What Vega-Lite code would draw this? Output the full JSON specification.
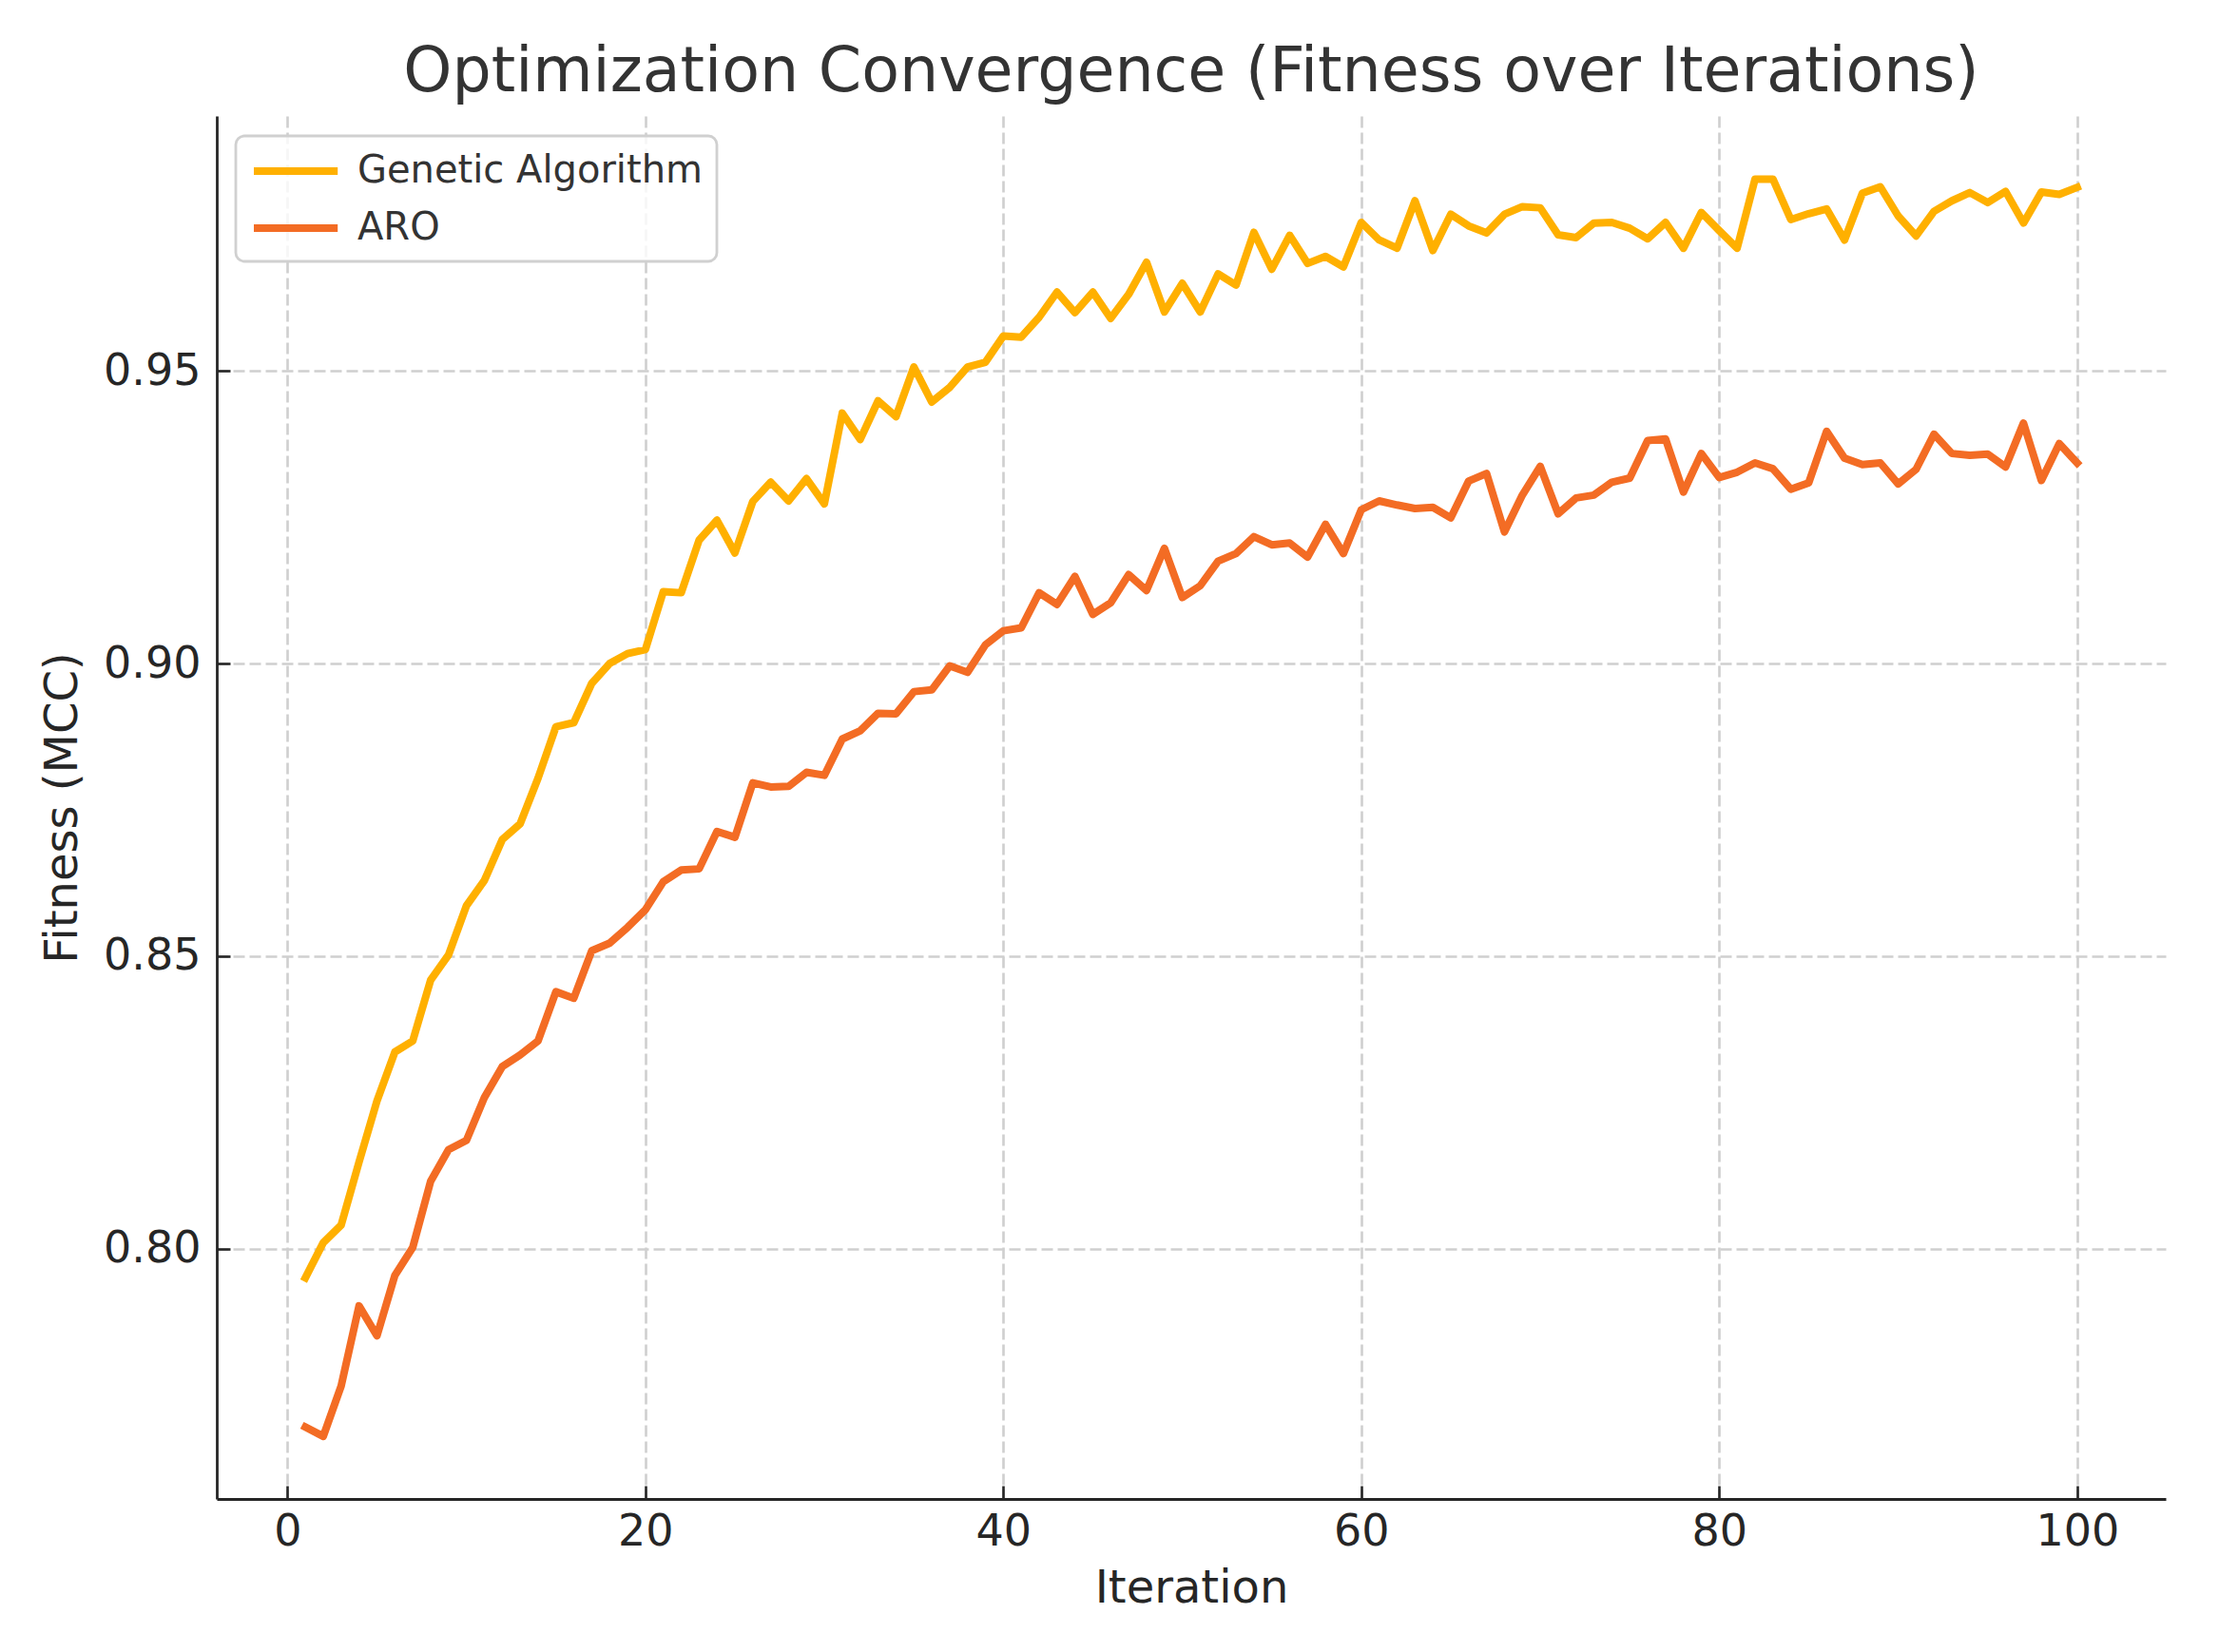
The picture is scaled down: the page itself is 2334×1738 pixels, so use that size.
{
  "$schema": "https://vega.github.io/schema/vega-lite/v6.json",
  "autosize": "none",
  "width": 2050,
  "height": 1455,
  "padding": {"left": 228, "top": 122, "right": 56, "bottom": 161},
  "background": "white",
  "title": {
    "text": "Optimization Convergence (Fitness over Iterations)",
    "font": "DejaVu Sans",
    "fontSize": 65,
    "fontWeight": "normal",
    "color": "#333333",
    "anchor": "middle",
    "baseline": "alphabetic",
    "offset": -39
  },
  "config": {
    "view": {"stroke": null},
    "font": "DejaVu Sans",
    "axis": {
      "domainColor": "#262626",
      "domainWidth": 2.8,
      "tickColor": "#262626",
      "tickWidth": 2.6,
      "tickSize": -14,
      "labelFont": "DejaVu Sans",
      "labelFontSize": 46,
      "labelColor": "#262626",
      "titleFont": "DejaVu Sans",
      "titleFontSize": 48,
      "titleFontWeight": "normal",
      "titleColor": "#262626",
      "grid": true,
      "gridColor": "#cfcfcf",
      "gridWidth": 2.6,
      "gridDash": [12, 5]
    }
  },
  "data": {
    "values": [
      {"iteration": 1, "algorithm": "Genetic Algorithm", "fitness": 0.7950},
      {"iteration": 2, "algorithm": "Genetic Algorithm", "fitness": 0.8010},
      {"iteration": 3, "algorithm": "Genetic Algorithm", "fitness": 0.8040},
      {"iteration": 4, "algorithm": "Genetic Algorithm", "fitness": 0.8148},
      {"iteration": 5, "algorithm": "Genetic Algorithm", "fitness": 0.8252},
      {"iteration": 6, "algorithm": "Genetic Algorithm", "fitness": 0.8336},
      {"iteration": 7, "algorithm": "Genetic Algorithm", "fitness": 0.8355},
      {"iteration": 8, "algorithm": "Genetic Algorithm", "fitness": 0.8459},
      {"iteration": 9, "algorithm": "Genetic Algorithm", "fitness": 0.8502},
      {"iteration": 10, "algorithm": "Genetic Algorithm", "fitness": 0.8586},
      {"iteration": 11, "algorithm": "Genetic Algorithm", "fitness": 0.8629},
      {"iteration": 12, "algorithm": "Genetic Algorithm", "fitness": 0.8699},
      {"iteration": 13, "algorithm": "Genetic Algorithm", "fitness": 0.8726},
      {"iteration": 14, "algorithm": "Genetic Algorithm", "fitness": 0.8804},
      {"iteration": 15, "algorithm": "Genetic Algorithm", "fitness": 0.8892},
      {"iteration": 16, "algorithm": "Genetic Algorithm", "fitness": 0.8899},
      {"iteration": 17, "algorithm": "Genetic Algorithm", "fitness": 0.8966},
      {"iteration": 18, "algorithm": "Genetic Algorithm", "fitness": 0.9000},
      {"iteration": 19, "algorithm": "Genetic Algorithm", "fitness": 0.9017},
      {"iteration": 20, "algorithm": "Genetic Algorithm", "fitness": 0.9024},
      {"iteration": 21, "algorithm": "Genetic Algorithm", "fitness": 0.9123},
      {"iteration": 22, "algorithm": "Genetic Algorithm", "fitness": 0.9121},
      {"iteration": 23, "algorithm": "Genetic Algorithm", "fitness": 0.9211},
      {"iteration": 24, "algorithm": "Genetic Algorithm", "fitness": 0.9245},
      {"iteration": 25, "algorithm": "Genetic Algorithm", "fitness": 0.9189},
      {"iteration": 26, "algorithm": "Genetic Algorithm", "fitness": 0.9277},
      {"iteration": 27, "algorithm": "Genetic Algorithm", "fitness": 0.9310},
      {"iteration": 28, "algorithm": "Genetic Algorithm", "fitness": 0.9278},
      {"iteration": 29, "algorithm": "Genetic Algorithm", "fitness": 0.9316},
      {"iteration": 30, "algorithm": "Genetic Algorithm", "fitness": 0.9273},
      {"iteration": 31, "algorithm": "Genetic Algorithm", "fitness": 0.9428},
      {"iteration": 32, "algorithm": "Genetic Algorithm", "fitness": 0.9383},
      {"iteration": 33, "algorithm": "Genetic Algorithm", "fitness": 0.9449},
      {"iteration": 34, "algorithm": "Genetic Algorithm", "fitness": 0.9422},
      {"iteration": 35, "algorithm": "Genetic Algorithm", "fitness": 0.9507},
      {"iteration": 36, "algorithm": "Genetic Algorithm", "fitness": 0.9447},
      {"iteration": 37, "algorithm": "Genetic Algorithm", "fitness": 0.9472},
      {"iteration": 38, "algorithm": "Genetic Algorithm", "fitness": 0.9507},
      {"iteration": 39, "algorithm": "Genetic Algorithm", "fitness": 0.9515},
      {"iteration": 40, "algorithm": "Genetic Algorithm", "fitness": 0.9560},
      {"iteration": 41, "algorithm": "Genetic Algorithm", "fitness": 0.9558},
      {"iteration": 42, "algorithm": "Genetic Algorithm", "fitness": 0.9592},
      {"iteration": 43, "algorithm": "Genetic Algorithm", "fitness": 0.9635},
      {"iteration": 44, "algorithm": "Genetic Algorithm", "fitness": 0.9600},
      {"iteration": 45, "algorithm": "Genetic Algorithm", "fitness": 0.9635},
      {"iteration": 46, "algorithm": "Genetic Algorithm", "fitness": 0.9590},
      {"iteration": 47, "algorithm": "Genetic Algorithm", "fitness": 0.9631},
      {"iteration": 48, "algorithm": "Genetic Algorithm", "fitness": 0.9686},
      {"iteration": 49, "algorithm": "Genetic Algorithm", "fitness": 0.9601},
      {"iteration": 50, "algorithm": "Genetic Algorithm", "fitness": 0.9650},
      {"iteration": 51, "algorithm": "Genetic Algorithm", "fitness": 0.9601},
      {"iteration": 52, "algorithm": "Genetic Algorithm", "fitness": 0.9666},
      {"iteration": 53, "algorithm": "Genetic Algorithm", "fitness": 0.9647},
      {"iteration": 54, "algorithm": "Genetic Algorithm", "fitness": 0.9737},
      {"iteration": 55, "algorithm": "Genetic Algorithm", "fitness": 0.9674},
      {"iteration": 56, "algorithm": "Genetic Algorithm", "fitness": 0.9732},
      {"iteration": 57, "algorithm": "Genetic Algorithm", "fitness": 0.9684},
      {"iteration": 58, "algorithm": "Genetic Algorithm", "fitness": 0.9696},
      {"iteration": 59, "algorithm": "Genetic Algorithm", "fitness": 0.9678},
      {"iteration": 60, "algorithm": "Genetic Algorithm", "fitness": 0.9754},
      {"iteration": 61, "algorithm": "Genetic Algorithm", "fitness": 0.9724},
      {"iteration": 62, "algorithm": "Genetic Algorithm", "fitness": 0.9710},
      {"iteration": 63, "algorithm": "Genetic Algorithm", "fitness": 0.9791},
      {"iteration": 64, "algorithm": "Genetic Algorithm", "fitness": 0.9706},
      {"iteration": 65, "algorithm": "Genetic Algorithm", "fitness": 0.9768},
      {"iteration": 66, "algorithm": "Genetic Algorithm", "fitness": 0.9748},
      {"iteration": 67, "algorithm": "Genetic Algorithm", "fitness": 0.9736},
      {"iteration": 68, "algorithm": "Genetic Algorithm", "fitness": 0.9768},
      {"iteration": 69, "algorithm": "Genetic Algorithm", "fitness": 0.9781},
      {"iteration": 70, "algorithm": "Genetic Algorithm", "fitness": 0.9779},
      {"iteration": 71, "algorithm": "Genetic Algorithm", "fitness": 0.9733},
      {"iteration": 72, "algorithm": "Genetic Algorithm", "fitness": 0.9728},
      {"iteration": 73, "algorithm": "Genetic Algorithm", "fitness": 0.9753},
      {"iteration": 74, "algorithm": "Genetic Algorithm", "fitness": 0.9754},
      {"iteration": 75, "algorithm": "Genetic Algorithm", "fitness": 0.9744},
      {"iteration": 76, "algorithm": "Genetic Algorithm", "fitness": 0.9726},
      {"iteration": 77, "algorithm": "Genetic Algorithm", "fitness": 0.9754},
      {"iteration": 78, "algorithm": "Genetic Algorithm", "fitness": 0.9710},
      {"iteration": 79, "algorithm": "Genetic Algorithm", "fitness": 0.9771},
      {"iteration": 80, "algorithm": "Genetic Algorithm", "fitness": 0.9740},
      {"iteration": 81, "algorithm": "Genetic Algorithm", "fitness": 0.9710},
      {"iteration": 82, "algorithm": "Genetic Algorithm", "fitness": 0.9828},
      {"iteration": 83, "algorithm": "Genetic Algorithm", "fitness": 0.9828},
      {"iteration": 84, "algorithm": "Genetic Algorithm", "fitness": 0.9759},
      {"iteration": 85, "algorithm": "Genetic Algorithm", "fitness": 0.9769},
      {"iteration": 86, "algorithm": "Genetic Algorithm", "fitness": 0.9777},
      {"iteration": 87, "algorithm": "Genetic Algorithm", "fitness": 0.9724},
      {"iteration": 88, "algorithm": "Genetic Algorithm", "fitness": 0.9804},
      {"iteration": 89, "algorithm": "Genetic Algorithm", "fitness": 0.9815},
      {"iteration": 90, "algorithm": "Genetic Algorithm", "fitness": 0.9765},
      {"iteration": 91, "algorithm": "Genetic Algorithm", "fitness": 0.9731},
      {"iteration": 92, "algorithm": "Genetic Algorithm", "fitness": 0.9773},
      {"iteration": 93, "algorithm": "Genetic Algorithm", "fitness": 0.9791},
      {"iteration": 94, "algorithm": "Genetic Algorithm", "fitness": 0.9805},
      {"iteration": 95, "algorithm": "Genetic Algorithm", "fitness": 0.9788},
      {"iteration": 96, "algorithm": "Genetic Algorithm", "fitness": 0.9807},
      {"iteration": 97, "algorithm": "Genetic Algorithm", "fitness": 0.9753},
      {"iteration": 98, "algorithm": "Genetic Algorithm", "fitness": 0.9806},
      {"iteration": 99, "algorithm": "Genetic Algorithm", "fitness": 0.9802},
      {"iteration": 100, "algorithm": "Genetic Algorithm", "fitness": 0.9814},
      {"iteration": 1, "algorithm": "ARO", "fitness": 0.7695},
      {"iteration": 2, "algorithm": "ARO", "fitness": 0.7679},
      {"iteration": 3, "algorithm": "ARO", "fitness": 0.7765},
      {"iteration": 4, "algorithm": "ARO", "fitness": 0.7902},
      {"iteration": 5, "algorithm": "ARO", "fitness": 0.7851},
      {"iteration": 6, "algorithm": "ARO", "fitness": 0.7954},
      {"iteration": 7, "algorithm": "ARO", "fitness": 0.8002},
      {"iteration": 8, "algorithm": "ARO", "fitness": 0.8115},
      {"iteration": 9, "algorithm": "ARO", "fitness": 0.8169},
      {"iteration": 10, "algorithm": "ARO", "fitness": 0.8185},
      {"iteration": 11, "algorithm": "ARO", "fitness": 0.8258},
      {"iteration": 12, "algorithm": "ARO", "fitness": 0.8311},
      {"iteration": 13, "algorithm": "ARO", "fitness": 0.8331},
      {"iteration": 14, "algorithm": "ARO", "fitness": 0.8355},
      {"iteration": 15, "algorithm": "ARO", "fitness": 0.8439},
      {"iteration": 16, "algorithm": "ARO", "fitness": 0.8428},
      {"iteration": 17, "algorithm": "ARO", "fitness": 0.8509},
      {"iteration": 18, "algorithm": "ARO", "fitness": 0.8522},
      {"iteration": 19, "algorithm": "ARO", "fitness": 0.8549},
      {"iteration": 20, "algorithm": "ARO", "fitness": 0.8579},
      {"iteration": 21, "algorithm": "ARO", "fitness": 0.8627},
      {"iteration": 22, "algorithm": "ARO", "fitness": 0.8647},
      {"iteration": 23, "algorithm": "ARO", "fitness": 0.8649},
      {"iteration": 24, "algorithm": "ARO", "fitness": 0.8713},
      {"iteration": 25, "algorithm": "ARO", "fitness": 0.8703},
      {"iteration": 26, "algorithm": "ARO", "fitness": 0.8796},
      {"iteration": 27, "algorithm": "ARO", "fitness": 0.8789},
      {"iteration": 28, "algorithm": "ARO", "fitness": 0.8790},
      {"iteration": 29, "algorithm": "ARO", "fitness": 0.8814},
      {"iteration": 30, "algorithm": "ARO", "fitness": 0.8809},
      {"iteration": 31, "algorithm": "ARO", "fitness": 0.8871},
      {"iteration": 32, "algorithm": "ARO", "fitness": 0.8885},
      {"iteration": 33, "algorithm": "ARO", "fitness": 0.8915},
      {"iteration": 34, "algorithm": "ARO", "fitness": 0.8914},
      {"iteration": 35, "algorithm": "ARO", "fitness": 0.8952},
      {"iteration": 36, "algorithm": "ARO", "fitness": 0.8955},
      {"iteration": 37, "algorithm": "ARO", "fitness": 0.8996},
      {"iteration": 38, "algorithm": "ARO", "fitness": 0.8985},
      {"iteration": 39, "algorithm": "ARO", "fitness": 0.9032},
      {"iteration": 40, "algorithm": "ARO", "fitness": 0.9056},
      {"iteration": 41, "algorithm": "ARO", "fitness": 0.9061},
      {"iteration": 42, "algorithm": "ARO", "fitness": 0.9121},
      {"iteration": 43, "algorithm": "ARO", "fitness": 0.9101},
      {"iteration": 44, "algorithm": "ARO", "fitness": 0.9149},
      {"iteration": 45, "algorithm": "ARO", "fitness": 0.9084},
      {"iteration": 46, "algorithm": "ARO", "fitness": 0.9104},
      {"iteration": 47, "algorithm": "ARO", "fitness": 0.9152},
      {"iteration": 48, "algorithm": "ARO", "fitness": 0.9125},
      {"iteration": 49, "algorithm": "ARO", "fitness": 0.9197},
      {"iteration": 50, "algorithm": "ARO", "fitness": 0.9113},
      {"iteration": 51, "algorithm": "ARO", "fitness": 0.9133},
      {"iteration": 52, "algorithm": "ARO", "fitness": 0.9175},
      {"iteration": 53, "algorithm": "ARO", "fitness": 0.9188},
      {"iteration": 54, "algorithm": "ARO", "fitness": 0.9217},
      {"iteration": 55, "algorithm": "ARO", "fitness": 0.9203},
      {"iteration": 56, "algorithm": "ARO", "fitness": 0.9206},
      {"iteration": 57, "algorithm": "ARO", "fitness": 0.9182},
      {"iteration": 58, "algorithm": "ARO", "fitness": 0.9238},
      {"iteration": 59, "algorithm": "ARO", "fitness": 0.9188},
      {"iteration": 60, "algorithm": "ARO", "fitness": 0.9263},
      {"iteration": 61, "algorithm": "ARO", "fitness": 0.9278},
      {"iteration": 62, "algorithm": "ARO", "fitness": 0.9271},
      {"iteration": 63, "algorithm": "ARO", "fitness": 0.9265},
      {"iteration": 64, "algorithm": "ARO", "fitness": 0.9267},
      {"iteration": 65, "algorithm": "ARO", "fitness": 0.9249},
      {"iteration": 66, "algorithm": "ARO", "fitness": 0.9312},
      {"iteration": 67, "algorithm": "ARO", "fitness": 0.9325},
      {"iteration": 68, "algorithm": "ARO", "fitness": 0.9225},
      {"iteration": 69, "algorithm": "ARO", "fitness": 0.9288},
      {"iteration": 70, "algorithm": "ARO", "fitness": 0.9337},
      {"iteration": 71, "algorithm": "ARO", "fitness": 0.9256},
      {"iteration": 72, "algorithm": "ARO", "fitness": 0.9283},
      {"iteration": 73, "algorithm": "ARO", "fitness": 0.9288},
      {"iteration": 74, "algorithm": "ARO", "fitness": 0.9310},
      {"iteration": 75, "algorithm": "ARO", "fitness": 0.9317},
      {"iteration": 76, "algorithm": "ARO", "fitness": 0.9381},
      {"iteration": 77, "algorithm": "ARO", "fitness": 0.9384},
      {"iteration": 78, "algorithm": "ARO", "fitness": 0.9293},
      {"iteration": 79, "algorithm": "ARO", "fitness": 0.9359},
      {"iteration": 80, "algorithm": "ARO", "fitness": 0.9318},
      {"iteration": 81, "algorithm": "ARO", "fitness": 0.9327},
      {"iteration": 82, "algorithm": "ARO", "fitness": 0.9343},
      {"iteration": 83, "algorithm": "ARO", "fitness": 0.9333},
      {"iteration": 84, "algorithm": "ARO", "fitness": 0.9298},
      {"iteration": 85, "algorithm": "ARO", "fitness": 0.9309},
      {"iteration": 86, "algorithm": "ARO", "fitness": 0.9397},
      {"iteration": 87, "algorithm": "ARO", "fitness": 0.9351},
      {"iteration": 88, "algorithm": "ARO", "fitness": 0.9340},
      {"iteration": 89, "algorithm": "ARO", "fitness": 0.9343},
      {"iteration": 90, "algorithm": "ARO", "fitness": 0.9307},
      {"iteration": 91, "algorithm": "ARO", "fitness": 0.9332},
      {"iteration": 92, "algorithm": "ARO", "fitness": 0.9392},
      {"iteration": 93, "algorithm": "ARO", "fitness": 0.9359},
      {"iteration": 94, "algorithm": "ARO", "fitness": 0.9356},
      {"iteration": 95, "algorithm": "ARO", "fitness": 0.9358},
      {"iteration": 96, "algorithm": "ARO", "fitness": 0.9336},
      {"iteration": 97, "algorithm": "ARO", "fitness": 0.9411},
      {"iteration": 98, "algorithm": "ARO", "fitness": 0.9313},
      {"iteration": 99, "algorithm": "ARO", "fitness": 0.9376},
      {"iteration": 100, "algorithm": "ARO", "fitness": 0.9343}
    ]
  },
  "mark": {"type": "line", "strokeWidth": 8, "strokeJoin": "round", "strokeCap": "square"},
  "encoding": {
    "x": {
      "field": "iteration",
      "type": "quantitative",
      "title": "Iteration",
      "scale": {"domain": [-3.95, 104.95], "nice": false, "zero": false},
      "axis": {"values": [0, 20, 40, 60, 80, 100], "labelPadding": 26, "titlePadding": 13}
    },
    "y": {
      "field": "fitness",
      "type": "quantitative",
      "title": "Fitness (MCC)",
      "scale": {"domain": [0.7572, 0.9936], "nice": false, "zero": false},
      "axis": {"values": [0.8, 0.85, 0.9, 0.95], "format": ".2f", "labelPadding": 31, "titlePadding": 18}
    },
    "color": {
      "field": "algorithm",
      "type": "nominal",
      "scale": {"domain": ["Genetic Algorithm", "ARO"], "range": ["#FFB000", "#F36C24"]},
      "legend": {
        "title": null,
        "orient": "none",
        "legendX": 20,
        "legendY": 21,
        "symbolType": "M-1,0H3.9",
        "symbolSize": 1296,
        "symbolStrokeWidth": 8,
        "labelFont": "DejaVu Sans",
        "labelFontSize": 40,
        "labelColor": "#333333",
        "labelOffset": 69,
        "labelLimit": 0,
        "rowPadding": 18,
        "padding": 15,
        "fillColor": "rgba(255,255,255,0.8)",
        "strokeColor": "#d0d0d0",
        "cornerRadius": 9,
        "encode": {"legend": {"update": {"strokeWidth": {"value": 2.8}}}}
      }
    }
  }
}
